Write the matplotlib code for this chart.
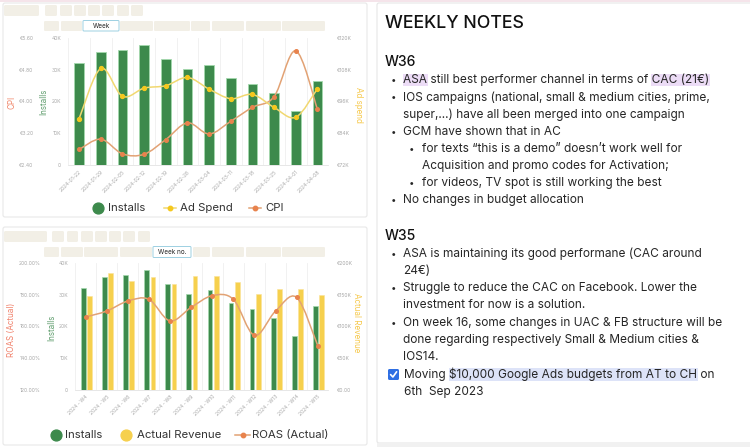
import numpy as np
import matplotlib
matplotlib.use("Agg")
import matplotlib.pyplot as plt
from matplotlib.path import Path
from matplotlib.patches import PathPatch, FancyBboxPatch, Rectangle
from matplotlib.lines import Line2D
from matplotlib.transforms import Affine2D

plt.rcParams["font.family"] = ["Inter", "DejaVu Sans"]

# ---- data -------------------------------------------------------------
weeks_date = ["2024-01-22", "2024-01-29", "2024-02-05", "2024-02-12", "2024-02-19",
              "2024-02-26", "2024-03-04", "2024-03-11", "2024-03-18", "2024-03-25",
              "2024-04-01", "2024-04-08"]
weeks_no = ["2024 - W4", "2024 - W5", "2024 - W6", "2024 - W7", "2024 - W8", "2024 - W9",
            "2024 - W10", "2024 - W11", "2024 - W12", "2024 - W13", "2024 - W14", "2024 - W15"]
installs = [31900, 35400, 36200, 37700, 33400, 30200, 31400, 27400, 25300, 22500, 16900, 26400]
ad_spend = [89500, 108400, 97900, 101000, 101900, 105000, 100600, 97000, 98600, 93700, 90000, 100800]
cpi = [2.79, 3.05, 2.68, 2.67, 3.04, 3.46, 3.18, 3.50, 3.85, 4.12, 5.27, 3.80]
actual_revenue = [147600, 183200, 171200, 178000, 166500, 179600, 179600, 170200, 151300,
                  158600, 159200, 148700]
roas = [165.9, 169.6, 175.9, 177.0, 163.4, 171.9, 179.3, 177.0, 154.3, 169.6, 178.2, 147.9]

GREEN = "#3d8a4c"
GREEN_EDGE = "#a3d9ad"
YELLOW = "#f6d04d"
YELLOW_LINE = "#f1d870"
ORANGE = "#e8834d"
ORANGE_LINE = "#e2a274"
TICK = "#a8a8a8"
PILL = "#f2efe6"

W, H, DPI = 750, 447, 100
fig = plt.figure(figsize=(W / DPI, H / DPI), dpi=DPI)
fig.patch.set_facecolor("white")
PX = Affine2D().scale(1 / DPI, -1 / DPI).translate(0, H / DPI) + fig.dpi_scale_trans


def box(x0, y0, x1, y1, fc, ec="none", lw=0.8, r=1.5, z=0):
    p = FancyBboxPatch((x0, y0), x1 - x0, y1 - y0, boxstyle=f"round,pad=0,rounding_size={r}",
                       fc=fc, ec=ec, lw=lw, transform=PX, zorder=z)
    fig.add_artist(p)


def axes_px(l, t, r, b):
    return fig.add_axes([l / W, 1 - b / H, (r - l) / W, (b - t) / H])


def smooth(ax, xs, ys, color, lw=1.1, k=6.0):
    pts = list(zip(xs, ys))
    n = len(pts)
    verts, codes = [pts[0]], [Path.MOVETO]
    for i in range(n - 1):
        p0 = pts[max(i - 1, 0)]
        p1, p2 = pts[i], pts[i + 1]
        p3 = pts[min(i + 2, n - 1)]
        c1 = (p1[0] + (p2[0] - p0[0]) / k, p1[1] + (p2[1] - p0[1]) / k)
        c2 = (p2[0] - (p3[0] - p1[0]) / k, p2[1] - (p3[1] - p1[1]) / k)
        verts += [c1, c2, p2]
        codes += [Path.CURVE4] * 3
    ax.add_patch(PathPatch(Path(verts, codes), fc="none", ec=color, lw=lw, zorder=3))


def style(ax):
    for s in ax.spines.values():
        s.set_visible(False)
    ax.set_facecolor("none")
    ax.tick_params(length=0, labelsize=3.6, labelcolor=TICK)


# ---- cards ------------------------------------------------------------
fig.add_artist(Rectangle((0, 0), W, 1.5, fc="#f5e4ea", ec="none", transform=PX))
box(3, 3, 367, 217, "white", "#e8e8e8", 0.8, 2)
box(3, 227, 367, 445, "white", "#e8e8e8", 0.8, 2)
box(377, 3, 752, 443, "white", "#e6e6e6", 0.8, 2)
fig.add_artist(Rectangle((377, 443), 375, 4, fc="#f1f1f1", ec="none", transform=PX))

# toolbar pills
row_top1 = [(4, 39), (45, 57), (60, 72), (74, 86), (88, 100), (102, 114), (117, 129), (131, 143)]
row_top2 = [(44, 59), (61, 82), (120, 153), (154, 190), (191, 210), (212, 244), (246, 281), (282, 325)]
row_bot1 = [(4, 47), (52, 64), (67, 78), (81, 93), (95, 107), (109, 121), (123, 135), (138, 150)]
row_bot2 = [(44, 59), (61, 83), (84, 118), (120, 152), (193, 210), (212, 244), (246, 281), (282, 325)]
for a, b in row_top1:
    box(a, 5, b, 16, PILL, r=1.5, z=1)
for a, b in row_top2:
    box(a, 21, b, 31, PILL, r=1.2, z=1)
for a, b in row_bot1:
    box(a, 231, b, 242, PILL, r=1.5, z=1)
for a, b in row_bot2:
    box(a, 247, b, 257, PILL, r=1.2, z=1)
box(83, 20.5, 119, 31, "white", "#9dd0e2", 0.7, 1, z=2)
fig.text(101, 26, "Week", transform=PX, ha="center", va="center", fontsize=4.6, color="#222")
box(153, 246.5, 191, 257.5, "white", "#9dd0e2", 0.7, 1, z=2)
fig.text(172, 252, "Week no.", transform=PX, ha="center", va="center", fontsize=4.6, color="#222")

x = np.arange(len(installs))


def k_fmt(v):
    return "0" if v == 0 else f"{int(v / 1000)}K"


# ---- top chart ----------------------------------------------------------
ax1 = axes_px(68.3, 37.7, 328.3, 165)
ax1.bar(x, installs, width=0.44, color=GREEN, edgecolor=GREEN_EDGE, lw=0.6, zorder=2)
ax1.set_xlim(-0.5, len(x) - 0.5)
ax1.set_ylim(0, 40000)
yt = np.arange(0, 40001, 10000)
ax1.set_yticks(yt, [k_fmt(v) for v in yt])
ax1.set_xticks(x, weeks_date, rotation=45, ha="right", rotation_mode="anchor")
ax1.set_xticks(np.arange(-0.5, len(x)), minor=True)
ax1.grid(which="minor", axis="x", color="#efefef", lw=0.6)
ax1.tick_params(which="minor", length=0)
style(ax1)
ax1.spines["bottom"].set_visible(True)
ax1.spines["bottom"].set_color("#e3e3e3")
ax1.spines["bottom"].set_linewidth(0.6)
ax1.tick_params(axis="y", pad=5)
ax1.tick_params(axis="x", pad=3, labelsize=3.6)

axc = ax1.twinx()
style(axc)
axc.yaxis.tick_left()
axc.set_ylim(2.4, 5.6)
ct = [2.4, 3.2, 4.0, 4.8, 5.6]
axc.set_yticks(ct, [f"€{v:.2f}" for v in ct])
axc.tick_params(axis="y", pad=25)
smooth(axc, x, cpi, ORANGE_LINE)
axc.plot(x, cpi, "o", ms=2.6, color=ORANGE, zorder=4)

axs = ax1.twinx()
style(axs)
axs.set_ylim(72000, 120000)
st = np.arange(72000, 120001, 12000)
axs.set_yticks(st, [f"€{int(v / 1000)}K" for v in st])
axs.tick_params(axis="y", pad=6)
smooth(axs, x, ad_spend, YELLOW_LINE)
axs.plot(x, ad_spend, "o", ms=2.8, color="#f5c81e", zorder=4)

fig.text(12, 102, "CPI", transform=PX, rotation=90, ha="center", va="center", fontsize=5.8, color="#f0866a")
fig.text(44, 102, "Installs", transform=PX, rotation=90, ha="center", va="center", fontsize=5.8, color="#5d9c6b")
fig.text(359, 105, "Ad spend", transform=PX, rotation=270, ha="center", va="center", fontsize=5.8, color="#f6c84a")

# ---- bottom chart -------------------------------------------------------
ax2 = axes_px(75, 262.7, 328.3, 390)
ax2.bar(x - 0.11, installs, width=0.22, color=GREEN, edgecolor=GREEN_EDGE, lw=0.5, zorder=2)
ax2.set_xlim(-0.5, len(x) - 0.5)
ax2.set_ylim(0, 40000)
ax2.set_yticks(yt, [k_fmt(v) for v in yt])
ax2.set_xticks(x, weeks_no, rotation=45, ha="right", rotation_mode="anchor")
ax2.set_xticks(np.arange(-0.5, len(x)), minor=True)
ax2.grid(which="minor", axis="x", color="#efefef", lw=0.6)
ax2.tick_params(which="minor", length=0)
style(ax2)
ax2.spines["bottom"].set_visible(True)
ax2.spines["bottom"].set_color("#e3e3e3")
ax2.spines["bottom"].set_linewidth(0.6)
ax2.tick_params(axis="y", pad=5)
ax2.tick_params(axis="x", pad=3, labelsize=3.6)

axr = ax2.twinx()
style(axr)
axr.set_ylim(0, 200000)
rt = np.arange(0, 200001, 50000)
axr.set_yticks(rt, ["€0.00"] + [f"€{int(v / 1000)}K" for v in rt[1:]])
axr.tick_params(axis="y", pad=6)
axr.bar(x + 0.19, actual_revenue, width=0.22, color=YELLOW, edgecolor="#fae39a", lw=0.4, zorder=2)

axo = ax2.twinx()
style(axo)
axo.yaxis.tick_left()
axo.set_ylim(120, 200)
ot = np.arange(120, 201, 20)
axo.set_yticks(ot, [f"{v:.2f}%" for v in ot])
axo.tick_params(axis="y", pad=25)
smooth(axo, x, roas, ORANGE_LINE)
axo.plot(x, roas, "o", ms=2.6, color=ORANGE, zorder=4)

fig.text(12, 330, "ROAS (Actual)", transform=PX, rotation=90, ha="center", va="center", fontsize=5.8, color="#f0806a")
fig.text(52, 328, "Installs", transform=PX, rotation=90, ha="center", va="center", fontsize=5.8, color="#5d9c6b")
fig.text(357, 323, "Actual Revenue", transform=PX, rotation=270, ha="center", va="center", fontsize=5.8, color="#f6c84a")

# ---- legends ------------------------------------------------------------
LEG_FS = 8.2


def leg_dot(cx, cy, color, label, tx):
    fig.add_artist(Line2D([cx], [cy], marker="o", ms=7.8, color=color, ls="none", transform=PX))
    fig.text(tx, cy, label, transform=PX, va="center", fontsize=LEG_FS, color="#333")


def leg_line(x0, x1, cy, color, mcolor, label, tx):
    fig.add_artist(Line2D([x0, x1], [cy, cy], color=color, lw=1.1, transform=PX))
    fig.add_artist(Line2D([(x0 + x1) / 2], [cy], marker="o", ms=3.2, color=mcolor, ls="none", transform=PX))
    fig.text(tx, cy, label, transform=PX, va="center", fontsize=LEG_FS, color="#333")


leg_dot(98, 208, GREEN, "Installs", 108)
leg_line(164, 176, 208, YELLOW_LINE, "#f5c81e", "Ad Spend", 180)
leg_line(249, 261, 208, ORANGE_LINE, ORANGE, "CPI", 265.5)
leg_dot(56, 435, GREEN, "Installs", 65)
leg_dot(126, 435, YELLOW, "Actual Revenue", 137)
leg_line(235, 250, 435, ORANGE_LINE, ORANGE, "ROAS (Actual)", 252)

# ---- weekly notes ---------------------------------------------------------
renderer = fig.canvas.get_renderer()
BODY_FS = 8.55
BODY_C = "#262626"
PURPLE_HL = "#ecdcf6"
BLUE_HL = "#dde3f8"


def text_w(s, fs=BODY_FS):
    t = fig.text(0, 0, s, fontsize=fs, parse_math=False)
    w = t.get_window_extent(renderer).width
    t.remove()
    return w


SPACE = text_w("a a") - text_w("aa")


def highlight(x0, line, part, y, color):
    i = line.index(part)
    pre = line[:i]
    start = x0 if not pre else x0 + text_w(pre.rstrip()) + SPACE
    end = x0 + text_w(line[:i + len(part)])
    fig.add_artist(Rectangle((start - 0.5, y - 6.2), end - start + 1, 12.4, fc=color, ec="none",
                             transform=PX, zorder=1))


fig.text(385, 24, "WEEKLY NOTES", transform=PX, va="center", fontsize=12.8, weight="medium", color="#111")
fig.text(385, 61.7, "W36", transform=PX, va="center", fontsize=10, weight="medium", color="#111")
fig.text(385, 236, "W35", transform=PX, va="center", fontsize=10, weight="medium", color="#111")

# (indent level, text, y) ; level 1 = bullet, 2 = sub bullet, 0 = continuation
notes_lines = [
    (1, "ASA still best performer channel in terms of CAC (21€)", 80),
    (1, "IOS campaigns (national, small & medium cities, prime,", 97.3),
    (0, "super,...) have all been merged into one campaign", 114.3),
    (1, "GCM have shown that in AC", 131.7),
    (2, "for texts “this is a demo” doesn’t work well for", 148.7),
    (-2, "Acquisition and promo codes for Activation;", 165.7),
    (2, "for videos, TV spot is still working the best", 183),
    (1, "No changes in budget allocation", 200.3),
    (1, "ASA is maintaining its good performane (CAC around", 254),
    (0, "24€)", 271),
    (1, "Struggle to reduce the CAC on Facebook. Lower the", 288.3),
    (0, "investment for now is a solution.", 305.3),
    (1, "On week 16, some changes in UAC & FB structure will be", 322.7),
    (0, "done regarding respectively Small & Medium cities &", 340),
    (0, "IOS14.", 357),
]
for level, line, y in notes_lines:
    if level == 1:
        fig.text(393.3, y, "•", transform=PX, ha="center", va="center", fontsize=7, color=BODY_C)
        tx = 403
    elif level == 2:
        fig.text(411.7, y, "•", transform=PX, ha="center", va="center", fontsize=7, color=BODY_C)
        tx = 421.7
    elif level == -2:
        tx = 421.7
    else:
        tx = 403
    fig.text(tx, y, line, transform=PX, va="center", fontsize=BODY_FS, color=BODY_C, parse_math=False, zorder=3)

highlight(403, notes_lines[0][1], "ASA", 80, PURPLE_HL)
highlight(403, notes_lines[0][1], "CAC (21€)", 80, PURPLE_HL)

check_line = "Moving $10,000 Google Ads budgets from AT to CH on"
fig.text(404.3, 374.3, check_line, transform=PX, va="center", fontsize=BODY_FS, color=BODY_C,
         parse_math=False, zorder=3)
highlight(404.3, check_line, "$10,000 Google Ads budgets from AT to CH", 374.3, BLUE_HL)
fig.text(404.3, 391.7, "6th  Sep 2023", transform=PX, va="center", fontsize=BODY_FS, color=BODY_C, zorder=3)
box(388, 369, 399, 380, "#2f6fe3", r=1.5, z=3)
fig.add_artist(Line2D([390.6, 392.9, 396.6], [374.6, 377.0, 371.8], color="white", lw=1.2,
                      transform=PX, zorder=4, solid_capstyle="round"))

fig.savefig("out.png", dpi=DPI, facecolor="white")
